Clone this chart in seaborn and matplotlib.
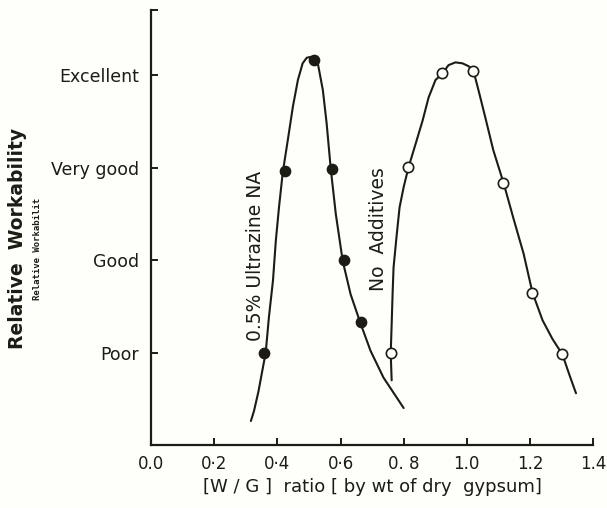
import matplotlib
matplotlib.use("Agg")
import matplotlib.pyplot as plt
import seaborn as sns
import pandas as pd

# ---- data ----
ytick_vals = [1, 2, 3, 4]
ytick_labels = ["Poor", "Good", "Very good", "Excellent"]
xtick_vals = [0.0, 0.2, 0.4, 0.6, 0.8, 1.0, 1.2, 1.4]
xtick_labels = ["0.0", "0·2", "0·4", "0·6", "0. 8", "1.0", "1.2", "1.4"]

# 0.5% Ultrazine NA: measured points
ultra_pts_x = [0.357, 0.424, 0.515, 0.572, 0.610, 0.664]
ultra_pts_y = [1.00, 2.96, 4.17, 2.99, 2.00, 1.33]
# hand-drawn curve
ultra_curve_x = [0.316, 0.326, 0.340, 0.352, 0.363, 0.373, 0.386, 0.395, 0.405, 0.417,
                 0.433, 0.449, 0.465, 0.480, 0.493, 0.506, 0.518, 0.528, 0.544,
                 0.556, 0.569, 0.585, 0.607, 0.632, 0.664, 0.695, 0.736, 0.800]
ultra_curve_y = [0.26, 0.37, 0.58, 0.80, 1.00, 1.38, 1.78, 2.21, 2.57, 2.95,
                 3.30, 3.66, 3.95, 4.13, 4.19, 4.20, 4.17, 4.13, 3.84,
                 3.48, 2.99, 2.50, 1.99, 1.63, 1.31, 1.02, 0.73, 0.40]

# No Additives: measured points
noadd_pts_x = [0.759, 0.815, 0.923, 1.021, 1.116, 1.207, 1.302]
noadd_pts_y = [1.00, 3.01, 4.02, 4.05, 2.83, 1.65, 0.99]
noadd_curve_x = [0.762, 0.759, 0.762, 0.765, 0.768, 0.777, 0.787, 0.800, 0.815,
                 0.838, 0.860, 0.879, 0.901, 0.923, 0.942, 0.964, 0.986, 1.005,
                 1.021, 1.037, 1.059, 1.084, 1.117, 1.148, 1.180, 1.208, 1.240,
                 1.271, 1.303, 1.324, 1.346]
noadd_curve_y = [0.70, 0.99, 1.31, 1.64, 1.92, 2.24, 2.57, 2.79, 3.00,
                 3.26, 3.51, 3.76, 3.95, 4.02, 4.11, 4.14, 4.13, 4.10,
                 4.05, 3.84, 3.54, 3.19, 2.83, 2.45, 2.07, 1.65, 1.35,
                 1.15, 0.98, 0.77, 0.56]

sns.set_style("ticks")
plt.rcParams["font.family"] = ["DejaVu Sans"]

ink = "#1c1c14"
bg = "#fefefa"

fig = plt.figure(figsize=(6.07, 5.08), dpi=100, facecolor=bg)
ax = fig.add_axes([0.249, 0.124, 0.728, 0.856])
ax.set_facecolor(bg)

uc = pd.DataFrame({"x": ultra_curve_x, "y": ultra_curve_y})
nc = pd.DataFrame({"x": noadd_curve_x, "y": noadd_curve_y})
up = pd.DataFrame({"x": ultra_pts_x, "y": ultra_pts_y})
npd = pd.DataFrame({"x": noadd_pts_x, "y": noadd_pts_y})

for df in (uc, nc):
    sns.lineplot(data=df, x="x", y="y", sort=False, estimator=None, color=ink,
                 lw=1.5, ax=ax)
for line in ax.lines:
    line.set_solid_joinstyle("round")
    line.set_solid_capstyle("round")
sns.scatterplot(data=up, x="x", y="y", color=ink, s=55, edgecolor=ink, linewidth=1, ax=ax, zorder=5)
sns.scatterplot(data=npd, x="x", y="y", color="white", s=55, edgecolor=ink, linewidth=1.2, ax=ax, zorder=5)

ax.set_xlim(0.0, 1.4)
ax.set_ylim(0, 4.705)

ax.set_xticks(xtick_vals)
ax.set_xticklabels(xtick_labels)
ax.set_yticks(ytick_vals + [4.705])
ax.set_yticklabels(ytick_labels + [""])

for s in ["top", "right"]:
    ax.spines[s].set_visible(False)
for s in ["left", "bottom"]:
    ax.spines[s].set_color(ink)
    ax.spines[s].set_linewidth(1.6)

ax.tick_params(axis="both", direction="in", length=5, width=1.4, color=ink,
               labelcolor=ink)
ax.tick_params(axis="y", pad=9, labelsize=12.5)
ax.tick_params(axis="x", pad=7, labelsize=12)

ax.set_xlabel("[W / G ]  ratio [ by wt of dry  gypsum]", fontsize=13, color=ink, labelpad=4)
ax.set_ylabel("")

ax.text(0.332, 2.05, "0.5% Ultrazine NA", rotation=90, ha="center", va="center",
        fontsize=13.5, color=ink)
ax.text(0.72, 2.34, "No  Additives", rotation=90, ha="center", va="center",
        fontsize=13.5, color=ink)

fig.text(18 / 607, 1 - 238 / 508, "Relative  Workability", rotation=90, ha="center",
         va="center", fontsize=13.5, fontweight="semibold", color=ink)
fig.text(38 / 607, 1 - 249 / 508, "Relative Workabilit", rotation=90, ha="center",
         va="center", fontsize=6.5, fontweight="bold", color=ink, family=["DejaVu Sans Mono"])

fig.savefig("out.png", dpi=100, facecolor=bg)
